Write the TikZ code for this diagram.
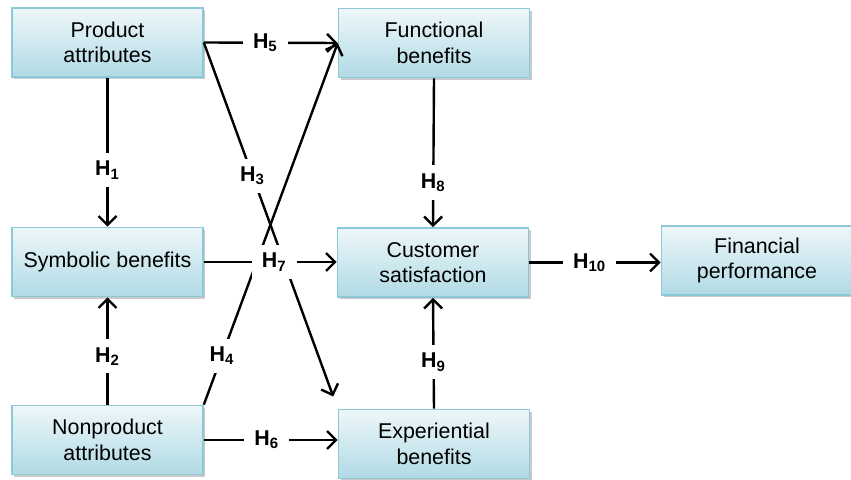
\documentclass[tikz,border=0pt]{standalone}
\usepackage{fontspec}
\setmainfont{Liberation Sans}
\usetikzlibrary{arrows.meta,shadows}
\definecolor{boxbot}{RGB}{176,218,229}
\definecolor{boxline}{RGB}{140,200,216}
\tikzset{
  box/.style={draw=boxline, line width=0.8pt, top color=boxbot!22, bottom color=boxbot,
    minimum width=95.5pt, minimum height=34.5pt, align=center, inner sep=2pt,
    font=\fontsize{10.7}{12.8}\selectfont,
    drop shadow={shadow xshift=1.2pt, shadow yshift=-1.2pt, fill=black!35, opacity=0.6}},
  arr/.style={line width=1.2pt, -{Straight Barb[length=4.5pt,width=9pt,line width=1.2pt]}},
  lbl/.style={fill=white, inner xsep=5pt, inner ysep=4pt, font=\fontsize{10.7}{12.8}\selectfont\bfseries}
}
\begin{document}
\begin{tikzpicture}[x=0.5pt,y=-0.5pt]
\useasboundingbox (0,0) rectangle (851,480);
\node[box] (pa) at (107.5,42.5) {Product\\attributes};
\node[box] (fb) at (434,43) {Functional\\benefits};
\node[box] (sb) at (107.5,262) {Symbolic benefits};
\node[box] (cs) at (433,262.5) {Customer\\satisfaction};
\node[box] (fp) at (757,260.5) {Financial\\performance};
\node[box] (na) at (107.5,440) {Nonproduct\\attributes};
\node[box] (eb) at (434,444) {Experiential\\benefits};

\draw[arr] (pa.east) -- (fb.west) node[lbl,pos=0.46] {H\textsubscript{5}};
\draw[arr, shorten >=6.5pt] (pa.east) -- (eb.north west) node[lbl,pos=0.364] {H\textsubscript{3}};
\draw[arr] (na.north east) -- (fb.west) node[lbl,pos=0.136] {H\textsubscript{4}};
\draw[arr] (pa.south) -- (sb.north) node[lbl,pos=0.62] {H\textsubscript{1}};
\draw[arr] (na.north) -- (sb.south) node[lbl,pos=0.45] {H\textsubscript{2}};
\draw[arr] (na.east) -- (na.east -| eb.west) node[lbl,pos=0.47] {H\textsubscript{6}};
\draw[arr] (fb.south) -- (cs.north) node[lbl,pos=0.70] {H\textsubscript{8}};
\draw[arr] (eb.north) -- (cs.south) node[lbl,pos=0.42] {H\textsubscript{9}};
\draw[arr] (cs.east) -- (cs.east -| fp.west) node[lbl,pos=0.46] {H\textsubscript{10}};
\draw[arr] (sb.east) -- (sb.east -| cs.west) node[lbl,pos=0.53] {H\textsubscript{7}};
\end{tikzpicture}
\end{document}
